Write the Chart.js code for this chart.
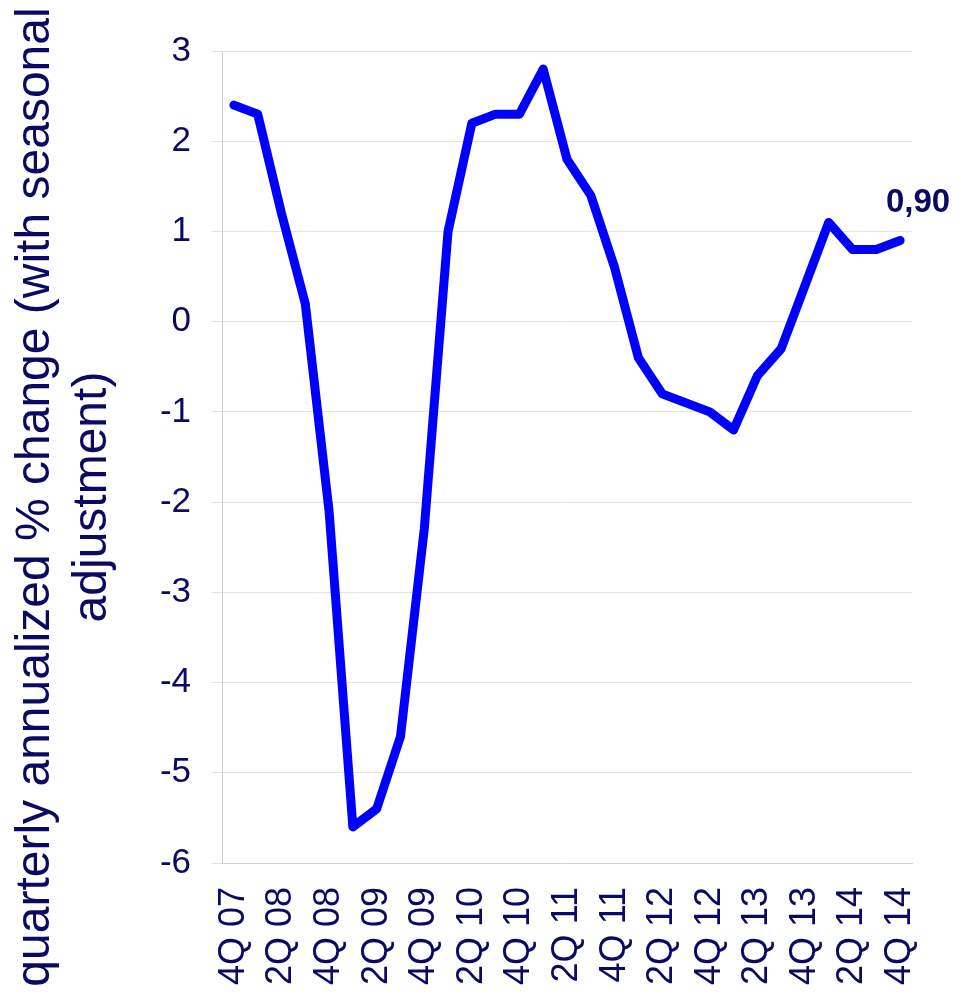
<!DOCTYPE html>
<html>
  <head>
    <script src="https://cdn.jsdelivr.net/npm/chart.js@4"></script>
    <style>
      body { margin: 0; background: #fff; }
    </style>
  </head>

  <body>
    <div style="width: 961px; height: 994px">
      <canvas id="canvas"></canvas>
    </div>
    <script>
      const quarters = [
        '4Q 07', '1Q 08', '2Q 08', '3Q 08', '4Q 08', '1Q 09', '2Q 09', '3Q 09', '4Q 09',
        '1Q 10', '2Q 10', '3Q 10', '4Q 10', '1Q 11', '2Q 11', '3Q 11', '4Q 11',
        '1Q 12', '2Q 12', '3Q 12', '4Q 12', '1Q 13', '2Q 13', '3Q 13', '4Q 13',
        '1Q 14', '2Q 14', '3Q 14', '4Q 14',
      ];
      const growth = [
        2.4, 2.3, 1.2, 0.2, -2.1, -5.6, -5.4, -4.6, -2.3,
        1.0, 2.2, 2.3, 2.3, 2.8, 1.8, 1.4, 0.6,
        -0.4, -0.8, -0.9, -1.0, -1.2, -0.6, -0.3, 0.4,
        1.1, 0.8, 0.8, 0.9,
      ];
      const yTitle = ['quarterly annualized % change (with seasonal', 'adjustment)'];

      const navy = '#0a0a64';
      const family = "'Liberation Sans', Arial, sans-serif";

      // y axis title, centred on the whole canvas height like the original
      const axisTitle = {
        id: 'axisTitle',
        afterDraw(chart) {
          const ctx = chart.ctx;
          ctx.save();
          ctx.fillStyle = navy;
          ctx.font = '48px ' + family;
          ctx.textAlign = 'center';
          ctx.textBaseline = 'middle';
          const cy = chart.height / 2;
          yTitle.forEach((line, i) => {
            ctx.save();
            ctx.translate(36 + i * 57, cy);
            ctx.rotate(-Math.PI / 2);
            ctx.fillText(line, 0, 0);
            ctx.restore();
          });
          ctx.restore();
        },
      };

      // value label on the last point
      const lastLabel = {
        id: 'lastLabel',
        afterDatasetsDraw(chart) {
          const meta = chart.getDatasetMeta(0);
          const pt = meta.data[meta.data.length - 1];
          const v = growth[growth.length - 1];
          const ctx = chart.ctx;
          ctx.save();
          ctx.fillStyle = navy;
          ctx.font = 'bold 33px ' + family;
          ctx.textAlign = 'center';
          ctx.textBaseline = 'alphabetic';
          ctx.fillText(v.toFixed(2).replace('.', ','), pt.x + 18, pt.y - 28);
          ctx.restore();
        },
      };

      new Chart(document.getElementById('canvas').getContext('2d'), {
        type: 'line',
        data: {
          labels: quarters,
          datasets: [
            {
              data: growth,
              borderColor: '#0000ff',
              borderWidth: 9,
              borderCapStyle: 'round',
              borderJoinStyle: 'round',
              pointRadius: 0,
              tension: 0,
              fill: false,
            },
          ],
        },
        options: {
          responsive: true,
          maintainAspectRatio: false,
          devicePixelRatio: 1,
          animation: false,
          layout: { padding: { top: 51, right: 49, left: 0, bottom: 0 } },
          plugins: {
            legend: { display: false },
            tooltip: { enabled: false },
          },
          scales: {
            x: {
              offset: true,
              grid: { display: false, drawTicks: false },
              border: { display: true, color: '#d4d4d4' },
              ticks: {
                autoSkip: false,
                minRotation: 90,
                maxRotation: 90,
                padding: 24,
                color: navy,
                font: { size: 36, family: family },
                callback(value, index) {
                  return index % 2 === 0 ? this.getLabelForValue(value) : '';
                },
              },
              afterFit(scale) {
                scale.height = 131;
                scale.paddingLeft = 0;
                scale.paddingRight = 0;
              },
            },
            y: {
              min: -6,
              max: 3,
              ticks: {
                stepSize: 1,
                padding: 21,
                color: navy,
                font: { size: 35, family: family },
              },
              grid: { color: '#e3e3e3', tickLength: 10 },
              border: { color: '#d0d0d0' },
              afterFit(scale) {
                scale.width = 222;
              },
            },
          },
        },
        plugins: [axisTitle, lastLabel],
      });
    </script>
  </body>
</html>
